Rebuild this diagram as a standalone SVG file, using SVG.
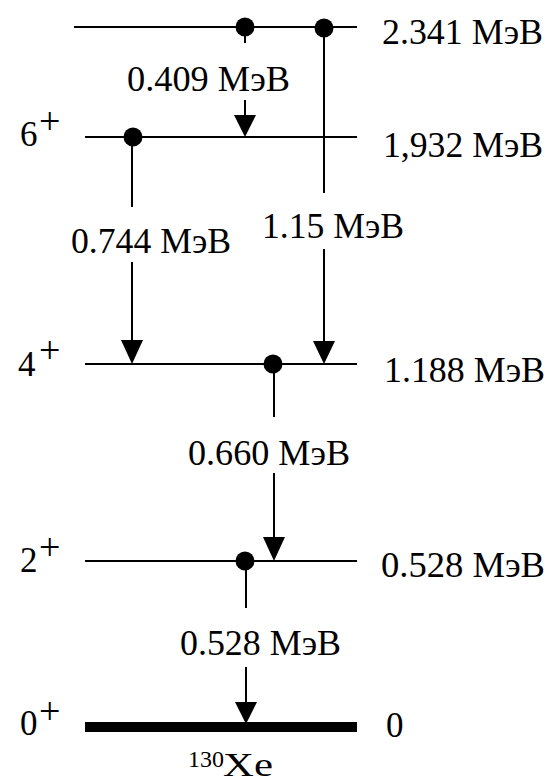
<svg xmlns="http://www.w3.org/2000/svg" width="549" height="784" viewBox="0 0 549 784">
<defs>
<style>
.lvl{stroke:#000;stroke-width:2;fill:none}
.gs{stroke:#000;stroke-width:2;fill:none}
.dot{fill:#000}
.ah{fill:#000}
text{font-family:"Liberation Serif","Times New Roman",serif;fill:#000}
.t{font-size:35px}
.sp{font-size:38px}
</style>
</defs>
<rect width="549" height="784" fill="#fff"/>
<g id="level-2341">
<line class="lvl" x1="74" y1="27" x2="357" y2="27"/>
<text class="t" x="382" y="44" textLength="161" lengthAdjust="spacingAndGlyphs">2.341 МэВ</text>
</g>
<g id="level-1932">
<line class="lvl" x1="85" y1="137" x2="357" y2="137"/>
<text class="t" x="20" y="146">6</text><text class="sp" x="39" y="134">+</text>
<text class="t" x="383" y="157" textLength="160" lengthAdjust="spacingAndGlyphs">1,932 МэВ</text>
</g>
<g id="level-1188">
<line class="lvl" x1="85" y1="364" x2="357" y2="364"/>
<text class="t" x="18" y="376">4</text><text class="sp" x="39" y="363">+</text>
<text class="t" x="384" y="382" textLength="161" lengthAdjust="spacingAndGlyphs">1.188 МэВ</text>
</g>
<g id="level-0528">
<line class="lvl" x1="85" y1="561" x2="357" y2="561"/>
<text class="t" x="20" y="572">2</text><text class="sp" x="39" y="560">+</text>
<text class="t" x="381" y="577" textLength="164" lengthAdjust="spacingAndGlyphs">0.528 МэВ</text>
</g>
<g id="level-0">
<line x1="85" y1="727" x2="357" y2="727" stroke="#000" stroke-width="10"/>
<text class="t" x="20" y="735">0</text><text class="sp" x="39" y="724">+</text>
<text class="t" x="386" y="737">0</text>
<text x="188" y="767" font-size="24" textLength="36" lengthAdjust="spacingAndGlyphs">130</text>
<text x="223" y="776" font-size="33" textLength="50" lengthAdjust="spacingAndGlyphs">Xe</text>
</g>
<g id="connectors">
<circle class="dot" cx="245" cy="27" r="9.5"/>
<line class="gs" x1="245" y1="27" x2="245" y2="43"/>
<line class="gs" x1="245" y1="100" x2="245" y2="125"/>
<polygon class="ah" points="234,115 256,115 245,137"/>
<text class="t" x="127" y="91" textLength="163" lengthAdjust="spacingAndGlyphs">0.409 МэВ</text>

<circle class="dot" cx="324" cy="28" r="9.5"/>
<line class="gs" x1="324" y1="28" x2="324" y2="193"/>
<line class="gs" x1="324" y1="249" x2="324" y2="350"/>
<polygon class="ah" points="313,341 335,341 324,364"/>
<text class="t" x="262" y="238" textLength="142" lengthAdjust="spacingAndGlyphs">1.15 МэВ</text>

<circle class="dot" cx="133" cy="137" r="9.5"/>
<line class="gs" x1="132" y1="137" x2="132" y2="207"/>
<line class="gs" x1="132" y1="262" x2="132" y2="350"/>
<polygon class="ah" points="121,340 143,340 132,364"/>
<text class="t" x="71" y="253" textLength="160" lengthAdjust="spacingAndGlyphs">0.744 МэВ</text>

<circle class="dot" cx="273" cy="364" r="9.5"/>
<line class="gs" x1="274" y1="364" x2="274" y2="417"/>
<line class="gs" x1="274" y1="473" x2="274" y2="548"/>
<polygon class="ah" points="263,537 285,537 274,561"/>
<text class="t" x="188" y="465" textLength="162" lengthAdjust="spacingAndGlyphs">0.660 МэВ</text>

<circle class="dot" cx="245" cy="561" r="9.5"/>
<line class="gs" x1="246" y1="561" x2="246" y2="608"/>
<line class="gs" x1="246" y1="667" x2="246" y2="712"/>
<polygon class="ah" points="235,702 257,702 246,724"/>
<text class="t" x="180" y="655" textLength="161" lengthAdjust="spacingAndGlyphs">0.528 МэВ</text>
</g>
</svg>
